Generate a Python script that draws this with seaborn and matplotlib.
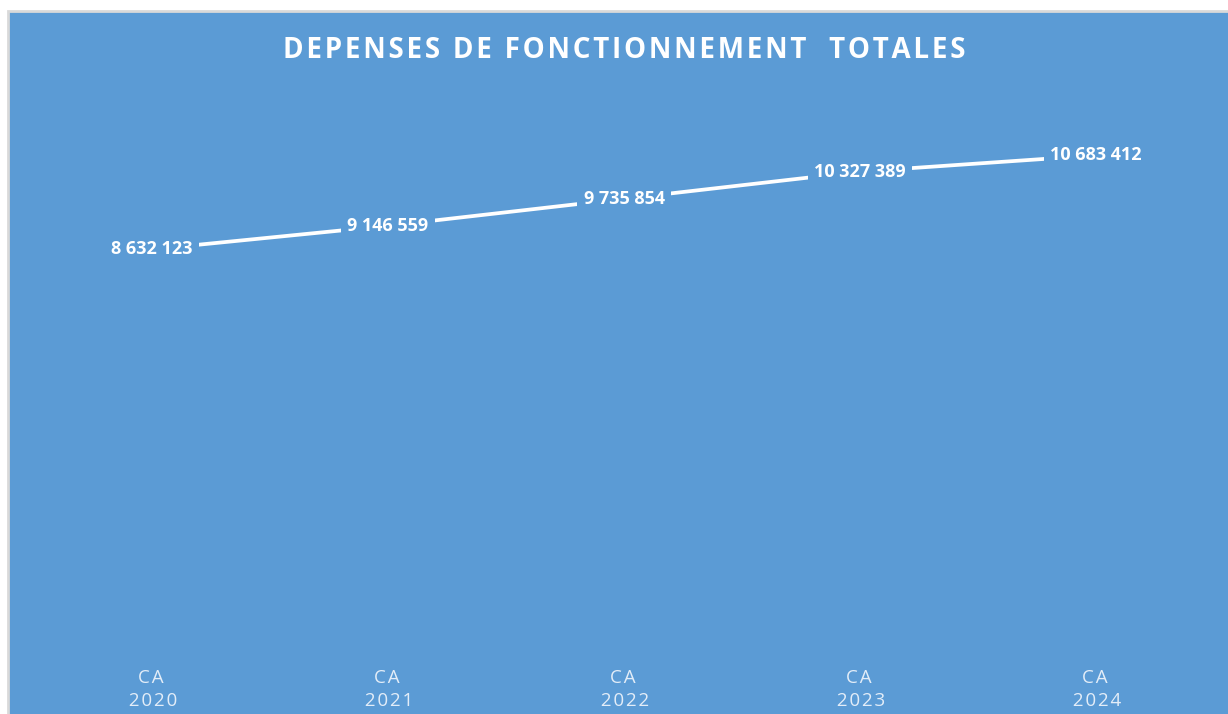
import pandas as pd
import matplotlib.pyplot as plt
import seaborn as sns
from matplotlib.patches import Rectangle

# data
categories = ["CA\n2020", "CA\n2021", "CA\n2022", "CA\n2023", "CA\n2024"]
values = [8632123, 9146559, 9735854, 10327389, 10683412]
title = "DEPENSES DE FONCTIONNEMENT  TOTALES"

df = pd.DataFrame({"annee": categories, "depenses": values})

blue = "#5B9BD5"

sns.set_theme(style="white")
plt.rcParams["font.family"] = ["Open Sans", "DejaVu Sans"]

fig = plt.figure(figsize=(12.28, 7.14), dpi=100, facecolor="white")

# chart background panel with light grey border
panel = Rectangle((8 / 1228, -0.01), 1.0, (714 - 11) / 714 + 0.01,
                  transform=fig.transFigure, facecolor=blue,
                  edgecolor="#d9d9d9", linewidth=2, zorder=-1)
fig.add_artist(panel)

ax = fig.add_axes([34 / 1228, 1 - 645 / 714, 1180 / 1228, 550 / 714])
ax.set_facecolor("none")
ax.set_zorder(1)

sns.lineplot(data=df, x="annee", y="depenses", color="white", linewidth=2.7,
             sort=False, ax=ax)

ax.set_xlim(-0.5, 4.5)
ax.set_ylim(0, 12000000)

# data labels with a blue box hiding the line under them
for i, v in enumerate(values):
    lab = f"{v:,}".replace(",", " ")
    ax.text(i, v, lab, ha="center", va="center", color="white",
            fontsize=13, fontweight="bold",
            bbox=dict(boxstyle="square,pad=0.35", facecolor=blue, edgecolor="none"))

ax.set_yticks([])
ax.set_xlabel("")
ax.set_ylabel("")
ax.set_xticks(range(len(categories)))
ax.set_xticklabels(["\u200a".join(c) for c in categories])
ax.tick_params(axis="x", length=0, colors="#e3edf8", labelsize=13.5, pad=17)
for lbl in ax.get_xticklabels():
    lbl.set_linespacing(1.4)
for s in ax.spines.values():
    s.set_visible(False)

# letter-spaced title
spaced = "\u200a".join(title)
fig.text(624 / 1228, 1 - 51 / 714, spaced,
         ha="center", va="center", color="white", fontsize=20, fontweight="bold")

fig.savefig("out.png", dpi=100, facecolor="white")
